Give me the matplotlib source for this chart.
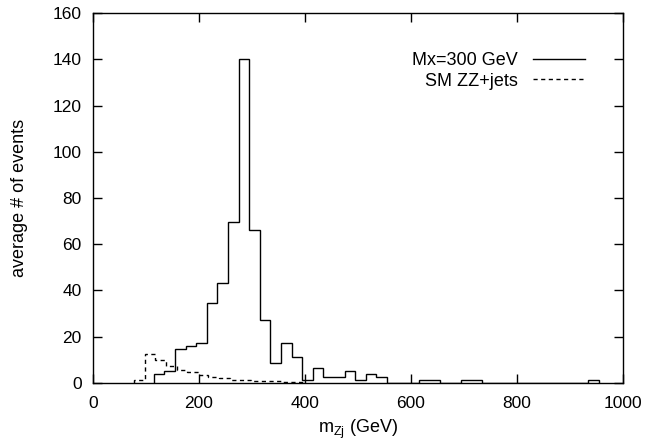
import matplotlib
matplotlib.use("Agg")
import matplotlib.pyplot as plt
import numpy as np

# ---- data ----
bin_width = 20  # GeV

# Mx = 300 GeV signal, first bin edge and per-bin average # of events
signal_first_edge = 115
signal_values = [3.9, 5.0, 14.5, 16.0, 17.3, 34.4, 43.1, 69.8, 140.0, 66.2,
                 27.0, 8.5, 17.1, 11.2, 1.2, 6.2, 2.6, 2.6, 4.9, 1.2,
                 3.8, 2.6, 0.0, 0.0, 0.0, 1.2, 1.2, 0.0, 0.0, 1.2,
                 1.2, 0.0, 0.0, 0.0, 0.0, 0.0, 0.0, 0.0, 0.0, 0.0,
                 0.0, 1.2]

# SM ZZ+jets background
bkg_first_edge = 78
bkg_values = [1.0, 12.3, 9.8, 7.2, 5.6, 4.5, 3.2, 2.3, 1.9, 1.3,
              1.0, 0.9, 0.8, 0.6, 0.5, 0.4]

signal_label = "Mx=300 GeV"
bkg_label = "SM ZZ+jets"
x_ticks = [0, 200, 400, 600, 800, 1000]
y_ticks = [0, 20, 40, 60, 80, 100, 120, 140, 160]

# ---- plotting ----
plt.rcParams["font.family"] = ["Liberation Sans", "DejaVu Sans"]
plt.rcParams["mathtext.default"] = "regular"

fig = plt.figure(figsize=(6.47, 4.45), dpi=100)
ax = fig.add_axes([92.8 / 647, (445 - 382.7) / 445, 530 / 647, 369.4 / 445])

sig_edges = signal_first_edge + bin_width * np.arange(len(signal_values) + 1)
bkg_edges = bkg_first_edge + bin_width * np.arange(len(bkg_values) + 1)

ax.stairs(signal_values, sig_edges, baseline=0, color="black", lw=1.0,
          label=signal_label)
ax.stairs(bkg_values, bkg_edges, baseline=0, color="black", lw=1.0,
          linestyle=(0, (3, 2.5)), label=bkg_label)

ax.set_xlim(0, 1000)
ax.set_ylim(0, 160)
ax.set_xticks(x_ticks)
ax.set_yticks(y_ticks)
ax.tick_params(direction="in", length=6.5, width=1.0, top=True, right=True,
               labelsize=12.5)
ax.tick_params(axis="x", pad=9.5)
ax.tick_params(axis="y", pad=8)
for s in ax.spines.values():
    s.set_linewidth(1.0)

ax.set_xlabel("m$_{Zj}$ (GeV)", fontsize=13, labelpad=5)
ax.set_ylabel("average # of events", fontsize=13, labelpad=18)

ax.legend(loc="upper right", bbox_to_anchor=((585 - 92.8) / 530, 0.895),
          frameon=False, markerfirst=False, fontsize=13, borderpad=0,
          borderaxespad=0, handlelength=2.9, handletextpad=0.8,
          labelspacing=0.2)

fig.savefig("out.png", dpi=100)
